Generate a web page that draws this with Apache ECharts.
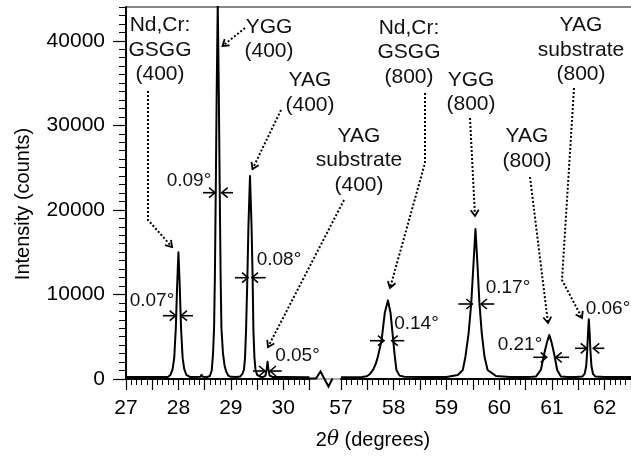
<!DOCTYPE html>
<html>
<head>
<meta charset="utf-8">
<script src="https://cdn.jsdelivr.net/npm/echarts@6/dist/echarts.min.js"></script>
<style>
  html, body { margin: 0; padding: 0; background: #fff; }
  #chart { width: 631px; height: 462px; }
</style>
</head>
<body>
<div id="chart"></div>
<script>
var FONT = '"Liberation Sans", Arial, sans-serif';

// 2theta (degrees) and intensity (counts), low-angle window 27 - 30.5
var thetaLow = [27.0, 27.5, 27.8, 27.85, 27.89, 27.92, 27.95, 27.975, 28.0, 28.025, 28.05, 28.08, 28.11, 28.15, 28.22,
  28.26, 28.28, 28.30, 28.42, 28.44, 28.47, 28.55,
  28.60, 28.635, 28.66, 28.68, 28.695, 28.705, 28.715, 28.73, 28.75, 28.77, 28.785, 28.795, 28.805, 28.82, 28.85, 28.88, 28.91, 28.95, 29.0,
  29.10, 29.18, 29.22, 29.25, 29.27, 29.29, 29.315, 29.335, 29.365, 29.395, 29.415, 29.43, 29.45, 29.47, 29.50, 29.56, 29.62,
  29.66, 29.685, 29.70, 29.715, 29.74, 29.80, 30.0, 30.5];
var countsLow = [230, 230, 230, 500, 1200, 2500, 6000, 11000, 15000, 11000, 6000, 2500, 1200, 500, 250,
  240, 420, 250, 260, 500, 260, 240,
  350, 1000, 3000, 6000, 12000, 18000, 24000, 34000, 44500, 34000, 24000, 18000, 12000, 6000, 3000, 1600, 900, 400, 260,
  240, 300, 600, 1100, 2500, 5800, 12000, 18000, 24000, 18000, 12000, 5800, 2500, 1100, 500, 280, 240,
  400, 1200, 2050, 1200, 400, 240, 230, 220];

// high-angle window 57 - 62.5
var thetaHigh = [57.0, 57.40, 57.49, 57.55, 57.61, 57.66, 57.70, 57.77, 57.83, 57.89, 57.94, 57.99, 58.02, 58.05, 58.11, 58.2, 58.5, 59.0,
  59.216, 59.31, 59.36, 59.42, 59.47, 59.51, 59.55, 59.59, 59.625, 59.67, 59.72, 59.78, 59.94, 60.2, 60.5,
  60.62, 60.70, 60.79, 60.856, 60.91, 60.95, 60.99, 61.04, 61.10, 61.17, 61.3,
  61.45, 61.58, 61.62, 61.65, 61.67, 61.685, 61.70, 61.715, 61.73, 61.75, 61.78, 61.82, 62.0, 62.5];
var countsHigh = [220, 240, 320, 600, 1100, 1800, 2650, 4600, 7800, 9300, 7800, 4600, 2700, 1100, 400, 260, 230, 240,
  470, 1070, 2640, 5400, 8970, 13300, 17740, 13300, 9000, 5400, 2700, 1070, 350, 240, 250,
  260, 300, 1070, 3050, 4420, 5200, 4420, 3050, 1070, 300, 250,
  250, 300, 600, 1500, 3400, 5500, 7070, 5500, 3400, 1500, 600, 300, 240, 230];

var xTicksLow = [27, 28, 29, 30];
var xTicksHigh = [57, 58, 59, 60, 61, 62];
var yTicks = [0, 10000, 20000, 30000, 40000];

// peak names, placed in pixels
var peakLabels = [
  { text: 'Nd,Cr:\nGSGG\n(400)', x: 160, y: 50 },
  { text: 'YGG\n(400)', x: 269, y: 39 },
  { text: 'YAG\n(400)', x: 310, y: 92.5 },
  { text: 'YAG\nsubstrate\n(400)', x: 359, y: 160.5 },
  { text: 'Nd,Cr:\nGSGG\n(800)', x: 409, y: 52.5 },
  { text: 'YGG\n(800)', x: 471, y: 92 },
  { text: 'YAG\n(800)', x: 527, y: 148.5 },
  { text: 'YAG\nsubstrate\n(800)', x: 581, y: 50 }
];

// dotted pointers, last point is the arrow tip
var pointers = [
  [[148, 91], [148, 220], [172, 247]],
  [[245, 28], [222.5, 46]],
  [[281, 110], [252.5, 169]],
  [[344, 200], [268, 347]],
  [[425, 93], [425, 163], [390, 288]],
  [[470, 118], [475, 216]],
  [[530, 177], [548, 323]],
  [[574, 88], [562, 280], [582, 318]]
];

// FWHM markers
var fwhmMarks = [
  { label: '0.07°', lx: 152, ly: 301, y: 315.7, l: [163, 175.7], r: [193, 181] },
  { label: '0.09°', lx: 189, ly: 180.5, y: 192.7, l: [203, 215], r: [233, 221.7] },
  { label: '0.08°', lx: 279, ly: 260, y: 277.7, l: [235, 248], r: [265.7, 252] },
  { label: '0.05°', lx: 297.5, ly: 356, y: 371, l: [253, 265], r: [281.7, 270] },
  { label: '0.14°', lx: 416.5, ly: 324, y: 340.7, l: [370, 384], r: [404.3, 391.7] },
  { label: '0.17°', lx: 508, ly: 287.3, y: 304, l: [458.3, 472.3], r: [494.3, 481] },
  { label: '0.21°', lx: 520, ly: 345, y: 357.3, l: [533.3, 546.7], r: [569, 555.7] },
  { label: '0.06°', lx: 608, ly: 309, y: 348.3, l: [575, 586.7], r: [604.3, 593.3] }
];

function zip (xs, ys) {
  var out = [];
  for (var i = 0; i < xs.length; i++) {
    out.push([xs[i], ys[i]]);
  }
  return out;
}

//open V arrow head at tip, coming from (px,py)
function headPoints (px, py, tx, ty, len, half) {
  var dx = tx - px, dy = ty - py;
  var d = Math.sqrt(dx * dx + dy * dy);
  var ux = dx / d, uy = dy / d;
  var bx = tx - ux * len, by = ty - uy * len;
  return [[bx - uy * half, by + ux * half], [tx, ty], [bx + uy * half, by - ux * half]];
}

var graphics = [];

// top frame line
graphics.push({ type: 'line', shape: { x1: 126, y1: 7, x2: 631, y2: 7 }, style: { stroke: '#888', lineWidth: 2 } });

// axis break
graphics.push({ type: 'line', shape: { x1: 309.5, y1: 379, x2: 341, y2: 379 }, style: { stroke: '#999', lineWidth: 1.5 } });
graphics.push({
  type: 'polyline',
  shape: { points: [[309.5, 378.5], [316, 378.5], [320.5, 371.5], [328.5, 386.5], [332.5, 378.5]] },
  style: { stroke: '#000', lineWidth: 2, fill: null }
});

// axis titles
graphics.push({
  type: 'text', x: 23, y: 204, rotation: Math.PI / 2,
  style: { text: 'Intensity (counts)', font: '20px ' + FONT, fill: '#000', align: 'center', verticalAlign: 'middle' }
});
graphics.push({
  type: 'text', x: 373, y: 440,
  style: {
    text: '{n|2}{t|θ}{n| (degrees)}', align: 'center', verticalAlign: 'middle', fill: '#000',
    rich: {
      n: { fontSize: 20, fontFamily: FONT, fill: '#000' },
      t: { fontSize: 20, fontFamily: '"DejaVu Serif", serif', fontStyle: 'italic', fill: '#000' }
    }
  }
});

peakLabels.forEach(function (p) {
  graphics.push({
    type: 'text', x: p.x, y: p.y,
    style: { text: p.text, font: '21px ' + FONT, fill: '#111', align: 'center', verticalAlign: 'middle', lineHeight: 24.5 }
  });
});

pointers.forEach(function (pts) {
  graphics.push({
    type: 'polyline', shape: { points: pts },
    style: { stroke: '#000', lineWidth: 2, lineDash: [2, 2], fill: null }
  });
  var a = pts[pts.length - 2], b = pts[pts.length - 1];
  graphics.push({
    type: 'polyline', shape: { points: headPoints(a[0], a[1], b[0], b[1], 6, 4) },
    style: { stroke: '#000', lineWidth: 1.8, fill: null }
  });
});

fwhmMarks.forEach(function (m) {
  graphics.push({
    type: 'text', x: m.lx, y: m.ly,
    style: { text: m.label, font: '19px ' + FONT, fill: '#111', align: 'center', verticalAlign: 'middle' }
  });
  [m.l, m.r].forEach(function (seg) {
    graphics.push({ type: 'line', shape: { x1: seg[0], y1: m.y, x2: seg[1], y2: m.y }, style: { stroke: '#000', lineWidth: 1.6 } });
    graphics.push({
      type: 'polyline', shape: { points: headPoints(seg[0], m.y, seg[1], m.y, 6, 5) },
      style: { stroke: '#000', lineWidth: 1.6, fill: null }
    });
  });
});

function xAxisFor (grid, min, max, ticks) {
  return {
    type: 'value', gridIndex: grid, min: min, max: max, interval: 0.5,
    axisLine: { onZero: false, lineStyle: { color: '#000', width: 2 } },
    axisTick: { length: 11, lineStyle: { color: '#000', width: 1.2 } },
    minorTick: { show: true, splitNumber: 5, length: 6, lineStyle: { color: '#000', width: 1 } },
    axisLabel: { customValues: ticks, margin: 19, fontSize: 21, fontFamily: FONT, color: '#000' },
    splitLine: { show: false }
  };
}

var chart = echarts.init(document.getElementById('chart'), null, { renderer: 'canvas' });

chart.setOption({
  animation: false,
  backgroundColor: '#fff',
  grid: [
    { left: 126, top: 7, width: 183.5, bottom: 83 },
    { left: 341, top: 7, width: 291, bottom: 83 }
  ],
  xAxis: [
    xAxisFor(0, 27, 30.5, xTicksLow),
    xAxisFor(1, 57, 62.5, xTicksHigh)
  ],
  yAxis: [
    {
      type: 'value', gridIndex: 0, position: 'left', min: 0, max: 44000, interval: 1000,
      axisLine: { show: true, lineStyle: { color: '#000', width: 2 } },
      axisTick: { show: true, customValues: yTicks, length: 13, lineStyle: { color: '#000', width: 1.2 } },
      axisLabel: {
        customValues: yTicks, margin: 21, fontSize: 21, fontFamily: FONT, color: '#000',
        formatter: function (v) { return String(v); }
      },
      splitLine: { show: false }
    },
    {
      // short ticks every 1000 counts
      type: 'value', gridIndex: 0, position: 'left', offset: 0, min: 0, max: 44000, interval: 1000,
      axisLine: { show: false },
      axisTick: { show: true, length: 7, lineStyle: { color: '#000', width: 1 } },
      axisLabel: { show: false },
      splitLine: { show: false }
    },
    { type: 'value', gridIndex: 1, min: 0, max: 44000, show: false, splitLine: { show: false } }
  ],
  series: [
    {
      type: 'line', xAxisIndex: 0, yAxisIndex: 0, data: zip(thetaLow, countsLow),
      symbol: 'none', clip: true, z: 3,
      lineStyle: { color: '#000', width: 2, join: 'round' }
    },
    {
      type: 'line', xAxisIndex: 1, yAxisIndex: 2, data: zip(thetaHigh, countsHigh),
      symbol: 'none', clip: true, z: 3,
      lineStyle: { color: '#000', width: 2, join: 'round' }
    }
  ],
  graphic: graphics
});
</script>
</body>
</html>
